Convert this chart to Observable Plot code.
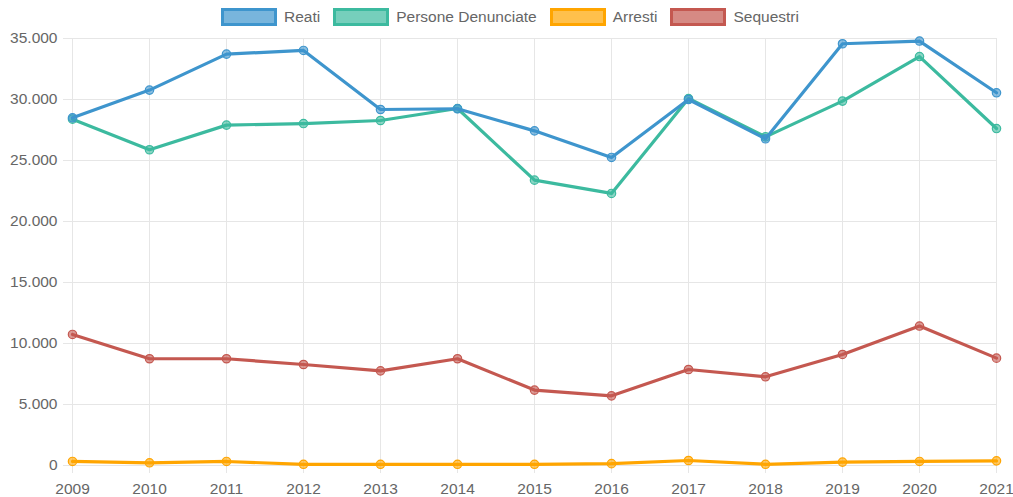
<!DOCTYPE html>
<html>
<head>
<meta charset="utf-8">
<script src="https://cdn.jsdelivr.net/npm/d3@7"></script>
<script src="https://cdn.jsdelivr.net/npm/@observablehq/plot@0.6"></script>
<style>
  html, body { margin: 0; padding: 0; background: #fff; }
  body { width: 1013px; height: 497px; overflow: hidden; font-family: "Liberation Sans", Arial, sans-serif; }
  #legend { height: 30px; display: flex; justify-content: center; align-items: center; padding-left: 20px; box-sizing: border-box; padding-top: 4px; }
  .item { display: flex; align-items: center; margin-right: 13px; font-size: 15.5px; color: #666; }
  .box { width: 56px; height: 18px; box-sizing: border-box; border: 3px solid; margin-right: 7px; }
  #chart svg { display: block; }
</style>
</head>
<body>
<div id="legend"></div>
<div id="chart"></div>
<script>
const years = [2009, 2010, 2011, 2012, 2013, 2014, 2015, 2016, 2017, 2018, 2019, 2020, 2021];
const reati = [28500, 30770, 33720, 34020, 29180, 29240, 27430, 25250, 30000, 26780, 34570, 34790, 30550];
const persone = [28390, 25880, 27900, 28030, 28280, 29260, 23390, 22300, 30080, 26940, 29870, 33520, 27620];
const arresti = [330, 220, 330, 100, 100, 100, 100, 150, 410, 100, 280, 330, 380];
const sequestri = [10740, 8750, 8750, 8280, 7760, 8750, 6180, 5710, 7870, 7270, 9100, 11430, 8800];
const seriesNames = ["Reati", "Persone Denunciate", "Arresti", "Sequestri"];
const seriesColors = ["#3e95cd", "#3cba9f", "#ffa500", "#c45850"];
const seriesValues = [reati, persone, arresti, sequestri];
const yTicks = [0, 5000, 10000, 15000, 20000, 25000, 30000, 35000];

const fmt = d3.formatLocale({decimal: ",", thousands: ".", grouping: [3], currency: ["€", ""]}).format(",d");

// legend
const legend = document.getElementById("legend");
seriesNames.forEach((name, i) => {
  const c = d3.color(seriesColors[i]);
  const fill = `rgba(${c.r},${c.g},${c.b},0.7)`;
  const item = document.createElement("div");
  item.className = "item";
  item.innerHTML = `<span class="box" style="border-color:${seriesColors[i]};background:${fill}"></span><span>${name}</span>`;
  legend.appendChild(item);
});

// long table; draw order reversed so first series is on top
const data = [];
for (let s = seriesNames.length - 1; s >= 0; s--) {
  years.forEach((y, j) => data.push({year: y, value: seriesValues[s][j], series: seriesNames[s], order: s}));
}

const marks = [
  Plot.gridY(yTicks, {stroke: "#e6e6e6", strokeOpacity: 1}),
  Plot.gridX(years, {stroke: "#e6e6e6", strokeOpacity: 1}),
  Plot.axisY(yTicks, {tickSize: 9, tickPadding: 6, stroke: "#e6e6e6", fill: "#666", tickFormat: fmt, fontSize: 15.5, label: null}),
  Plot.axisX(years, {tickSize: 8, tickPadding: 9, stroke: "#e6e6e6", fill: "#666", tickFormat: d => String(d), fontSize: 15.5, label: null}),
];
for (let s = seriesNames.length - 1; s >= 0; s--) {
  const rows = data.filter(d => d.order === s);
  marks.push(Plot.line(rows, {x: "year", y: "value", stroke: seriesColors[s], strokeWidth: 3.2, strokeLinejoin: "round"}));
  marks.push(Plot.dot(rows, {x: "year", y: "value", r: 4.2, fill: seriesColors[s], fillOpacity: 0.6, stroke: seriesColors[s], strokeWidth: 1.2}));
}

const chart = Plot.plot({
  width: 1013,
  height: 467,
  marginLeft: 72,
  marginRight: 17,
  marginTop: 8,
  marginBottom: 32,
  style: {fontFamily: "'Liberation Sans', Arial, sans-serif", fontSize: "15.5px", color: "#666", background: "#fff", overflow: "visible"},
  x: {type: "linear", domain: [years[0], years[years.length - 1]]},
  y: {domain: [yTicks[0], yTicks[yTicks.length - 1]]},
  marks
});
document.getElementById("chart").appendChild(chart);
</script>
</body>
</html>
